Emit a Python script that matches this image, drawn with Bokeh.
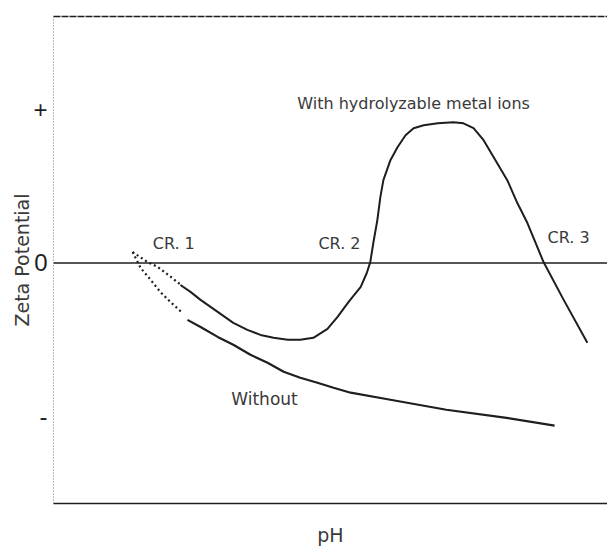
from bokeh.plotting import figure
from bokeh.models import Range1d, FixedTicker, LinearAxis, Span, Label
from bokeh.embed import file_html
from bokeh.resources import INLINE

# ---- data ----
ions_dot_ph = [2.57, 2.87, 3.07, 3.28, 3.52]
ions_dot_zeta = [0.071, 0.006, -0.026, -0.078, -0.14]

ions_ph = [3.52, 3.72, 3.92, 4.26, 4.57, 4.85, 5.11, 5.37, 5.65, 5.90, 6.16, 6.44,
           6.64, 6.86, 7.10, 7.22, 7.29, 7.35, 7.43, 7.49, 7.55, 7.69, 7.83, 7.99,
           8.15, 8.35, 8.63, 8.94, 9.14, 9.34, 9.54, 9.74, 10.01, 10.21, 10.41,
           10.73, 11.13, 11.60]
ions_zeta = [-0.143, -0.188, -0.240, -0.318, -0.390, -0.435, -0.468, -0.487, -0.500, -0.500, -0.487, -0.429,
             -0.351, -0.253, -0.156, -0.065, 0.006, 0.130, 0.279, 0.429, 0.539, 0.669, 0.753, 0.831,
             0.877, 0.896, 0.909, 0.916, 0.909, 0.877, 0.799, 0.688, 0.539, 0.390, 0.260,
             0.006, -0.240, -0.519]

without_dot_ph = [2.57, 2.73, 2.93, 3.12, 3.32, 3.56]
without_dot_zeta = [0.071, -0.032, -0.110, -0.188, -0.253, -0.325]

without_ph = [3.66, 3.92, 4.26, 4.57, 4.91, 5.25, 5.57, 5.90, 6.24, 6.56, 6.90,
              7.69, 8.80, 9.96, 10.95]
without_zeta = [-0.370, -0.416, -0.481, -0.532, -0.597, -0.649, -0.708, -0.747, -0.779, -0.812, -0.844,
                -0.890, -0.955, -1.006, -1.058]

y_ticks = [1, 0, -1]
y_tick_labels = {1: "+", 0: "0", -1: "-"}

INK = "#1e1e1e"
TXT = "#3a3a3a"

p = figure(width=607, height=548, output_backend="svg", toolbar_location=None,
           x_range=Range1d(1, 12), y_range=Range1d(-1.565, 1.604),
           min_border_left=53, min_border_right=0, min_border_top=16, min_border_bottom=44)
p.outline_line_color = None
p.grid.visible = False
p.background_fill_color = "white"
p.border_fill_color = "white"

# x axis (pH, no ticks)
xa = p.xaxis[0]
xa.ticker = FixedTicker(ticks=[])
xa.axis_label = "pH"
xa.axis_label_text_font = "DejaVu Sans"
xa.axis_label_text_font_style = "normal"
xa.axis_label_text_font_size = "19px"
xa.axis_label_text_color = TXT
xa.axis_label_standoff = 20
xa.axis_line_color = INK
xa.axis_line_width = 1.6
xa.major_tick_line_color = None
xa.minor_tick_line_color = None

# y axis
ya = p.yaxis[0]
ya.ticker = FixedTicker(ticks=y_ticks)
ya.major_label_overrides = y_tick_labels
ya.major_label_text_font = "Liberation Sans"
ya.major_label_text_font_size = "24px"
ya.major_label_text_color = INK
ya.major_label_standoff = 0
ya.major_tick_line_color = None
ya.minor_tick_line_color = None
ya.axis_line_color = "#777777"
ya.axis_line_dash = "1 2"
ya.axis_line_width = 1
ya.axis_label = "Zeta Potential"
ya.axis_label_text_font = "DejaVu Sans"
ya.axis_label_text_font_style = "normal"
ya.axis_label_text_font_size = "19px"
ya.axis_label_text_color = TXT
ya.axis_label_standoff = -3

# top border
top = LinearAxis(ticker=FixedTicker(ticks=[]), axis_line_color=INK, axis_line_width=1.3,
                 axis_line_dash="7 1", major_tick_line_color=None, minor_tick_line_color=None)
p.add_layout(top, "above")

# zero line
p.add_layout(Span(location=0, dimension="width", line_color=INK, line_width=1.3))

# curves
p.line(ions_dot_ph, ions_dot_zeta, line_color=INK, line_width=2.2, line_dash="2 3")
p.line(ions_ph, ions_zeta, line_color=INK, line_width=2, line_join="round")
p.line(without_dot_ph, without_dot_zeta, line_color=INK, line_width=2.2, line_dash="2 3")
p.line(without_ph, without_zeta, line_color=INK, line_width=2.2, line_join="round")

# annotations
def lab(x, y, t, size):
    p.add_layout(Label(x=x, y=y, text=t, text_font="DejaVu Sans", text_font_size=size,
                       text_color=TXT, text_align="left", text_baseline="middle"))

lab(5.84, 1.039, "With hydrolyzable metal ions", "16px")
lab(2.97, 0.130, "CR. 1", "16px")
lab(6.26, 0.130, "CR. 2", "16px")
lab(10.81, 0.169, "CR. 3", "16px")
lab(4.53, -0.883, "Without", "17px")

open("out.html", "w").write(file_html(p, INLINE))
